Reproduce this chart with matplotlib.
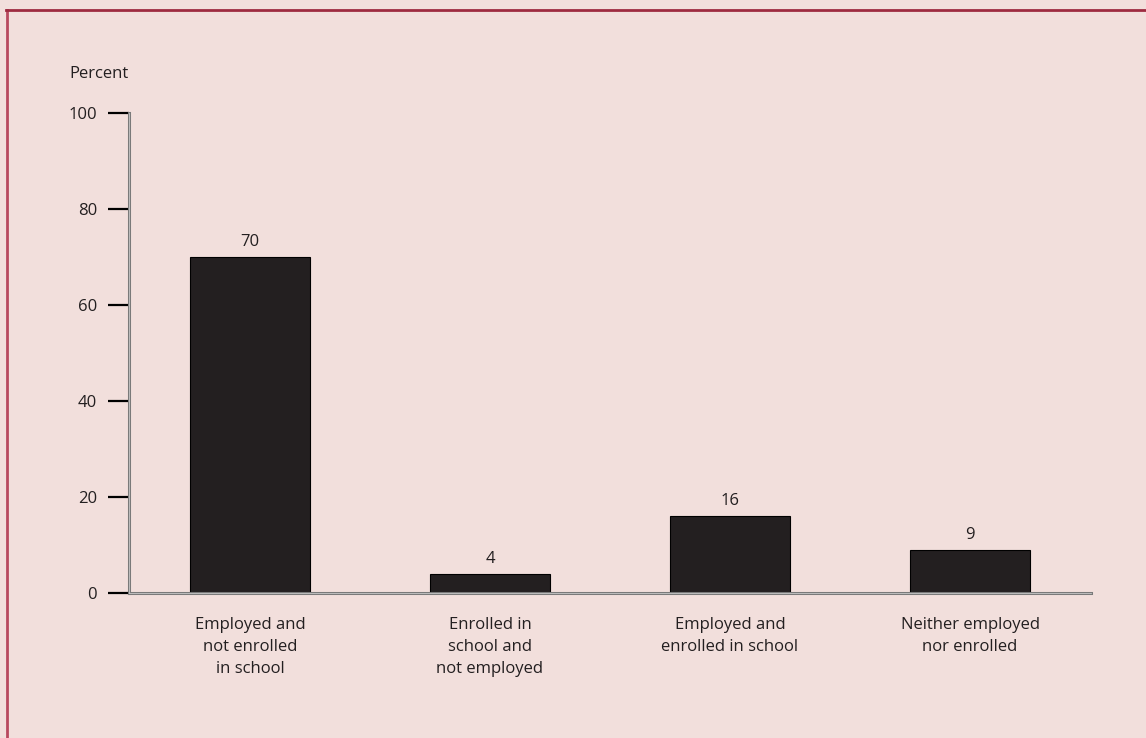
import matplotlib
matplotlib.use("Agg")
import matplotlib.pyplot as plt
from matplotlib.lines import Line2D

categories = ["Employed and\nnot enrolled\nin school",
              "Enrolled in\nschool and\nnot employed",
              "Employed and\nenrolled in school",
              "Neither employed\nnor enrolled"]
values = [70, 4, 16, 9]
yticks = [0, 20, 40, 60, 80, 100]

BG = "#f2dfdc"
INK = "#231f20"
plt.rcParams['font.family'] = ['Open Sans', 'DejaVu Sans']
FS = 12

fig = plt.figure(figsize=(11.46, 7.38), dpi=100, facecolor=BG)
ax = fig.add_axes([129/1146, 145/738, (1091-129)/1146, 480/738])
ax.set_facecolor(BG)

x = list(range(len(values)))
ax.bar(x, values, width=0.5, color=INK, edgecolor="#000000", linewidth=0.8, zorder=3)
for xi, v in zip(x, values):
    ax.text(xi, v + 1.5, f"{v}", ha="center", va="bottom", fontsize=FS, color=INK)

ax.set_xlim(-0.504, 3.504)
ax.set_ylim(0, 100)
ax.set_yticks(yticks)
ax.set_yticklabels([str(t) for t in yticks], fontsize=FS, color=INK)
ax.tick_params(axis='y', direction='out', length=15, width=1.6, color='black', pad=8)
ax.set_xticks(x)
ax.set_xticklabels(categories, fontsize=FS, color=INK, linespacing=1.5)
ax.tick_params(axis='x', length=0, pad=17)

for s in ['top', 'right']:
    ax.spines[s].set_visible(False)
for s in ['left', 'bottom']:
    ax.spines[s].set_color('#7a7a7a')
    ax.spines[s].set_linewidth(2.2)
    ax.spines[s].set_zorder(4)
ax.axhline(0, color='#d8d8d8', lw=0.5, zorder=5, clip_on=False)
ax.axvline(-0.504, color='#d8d8d8', lw=0.5, zorder=5, clip_on=False)

fig.text(69/1146, 1 - 74/738, "Percent", ha="left", va="center", fontsize=FS, color=INK)

# figure border (left and top)
fig.add_artist(Line2D([7/1146, 7/1146], [0, 1 - 10/738], transform=fig.transFigure,
                      color="#b8495f", lw=2))
fig.add_artist(Line2D([6/1146, 1], [1 - 10/738, 1 - 10/738], transform=fig.transFigure,
                      color="#9e2b40", lw=2))

fig.savefig("out.png", dpi=100, facecolor=BG)
